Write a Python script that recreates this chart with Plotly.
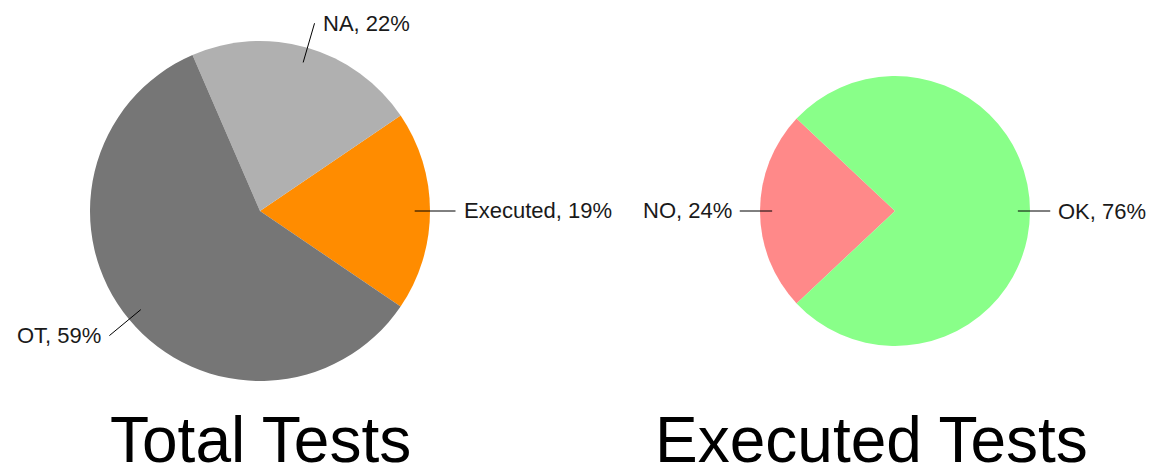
import math
import plotly.graph_objects as go

# ---- data ----
total_labels = ["Executed", "NA", "OT"]
total_values = [19, 22, 59]
total_colors = ["#FF8C00", "#B0B0B0", "#767676"]

exec_labels = ["NO", "OK"]
exec_values = [24, 76]
exec_colors = ["#FF8989", "#89FF89"]

titles = ["Total Tests", "Executed Tests"]

# ---- layout geometry (pixels) ----
W, H = 1156, 468
FONT = "Liberation Sans, Arial, sans-serif"

pies = [
    dict(labels=total_labels, values=total_values, colors=total_colors,
         cx=260, cy=211, r=170, center_angle=0.0, title=titles[0], tx=260),
    dict(labels=exec_labels, values=exec_values, colors=exec_colors,
         cx=895, cy=211, r=135, center_angle=180.0, title=titles[1], tx=871),
]

fig = go.Figure()
shapes = []
annotations = []

for p in pies:
    vals = p["values"]
    tot = float(sum(vals))
    span_first = 360.0 * vals[0] / tot
    # math angle where first slice starts (slices run counterclockwise)
    start_math = p["center_angle"] - span_first / 2.0
    rotation = 90.0 - start_math - span_first
    while rotation > 360:
        rotation -= 360
    while rotation < -360:
        rotation += 360
    cx, cy, r = p["cx"], p["cy"], p["r"]
    dom_x = [(cx - r) / W, (cx + r) / W]
    dom_y = [(H - cy - r) / H, (H - cy + r) / H]
    fig.add_trace(go.Pie(
        labels=p["labels"], values=vals, sort=False,
        direction="counterclockwise", rotation=rotation,
        marker=dict(colors=p["colors"], line=dict(width=0)),
        textinfo="none", hoverinfo="label+percent",
        domain=dict(x=dom_x, y=dom_y), showlegend=False,
    ))
    # leader lines + labels
    acc = 0.0
    for lab, v in zip(p["labels"], vals):
        mid = start_math + 360.0 * (acc + v / 2.0) / tot
        acc += v
        a = math.radians(mid)
        dx, dy = math.cos(a), -math.sin(a)
        x0, y0 = cx + 0.91 * r * dx, cy + 0.91 * r * dy
        x1, y1 = cx + 1.15 * r * dx, cy + 1.15 * r * dy
        shapes.append(dict(type="line", xref="paper", yref="paper",
                           x0=x0 / W, y0=1 - y0 / H, x1=x1 / W, y1=1 - y1 / H,
                           line=dict(color="black", width=1)))
        right = dx >= 0
        gap = 6
        tx = x1 + gap if right else x1 - gap
        pct = round(100.0 * v / tot)
        annotations.append(dict(
            x=tx / W, y=1 - y1 / H, xref="paper", yref="paper",
            text=f"{lab}, {pct}%", showarrow=False,
            xanchor="left" if right else "right", yanchor="middle",
            font=dict(family=FONT, size=22, color="#1a1a1a")))
    annotations.append(dict(
        x=p["tx"] / W, y=1 - 440 / H, xref="paper", yref="paper",
        text=p["title"], showarrow=False, xanchor="center", yanchor="middle",
        font=dict(family=FONT, size=64, color="black")))

fig.update_layout(
    width=W, height=H,
    margin=dict(l=0, r=0, t=0, b=0),
    paper_bgcolor="white", plot_bgcolor="white",
    shapes=shapes, annotations=annotations,
)

fig.write_html("out.html")
